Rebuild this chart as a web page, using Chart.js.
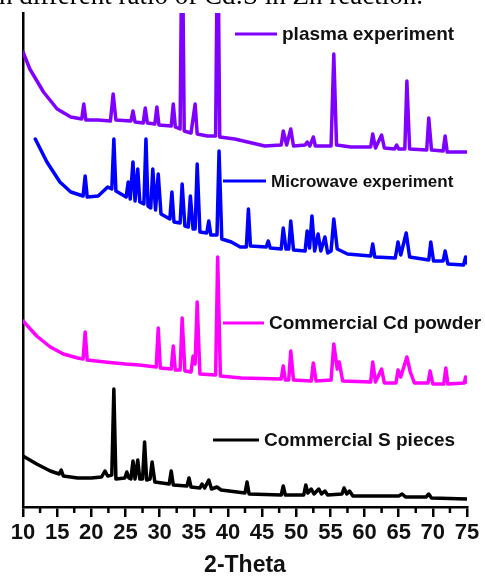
<!DOCTYPE html>
<html lang="en">
<head>
<meta charset="UTF-8">
<title>XRD patterns</title>
<script src="https://cdn.jsdelivr.net/npm/chart.js"></script>
<style>
  html, body { margin: 0; padding: 0; background: #fff; }
  .wrap { width: 485px; height: 577px; position: relative; }
</style>
</head>
<body>
<div class="wrap">
  <canvas id="xrdChart" width="485" height="577"></canvas>
</div>
<script>
// 2-theta ticks
const thetaTicks = [10, 15, 20, 25, 30, 35, 40, 45, 50, 55, 60, 65, 70, 75];

// plasma experiment (stacked, a.u.)
const plasmaTheta = [10, 11, 13, 15, 17, 18.6, 18.9, 19.2, 21, 22.8, 23.2, 23.6, 25.8, 26.1, 26.4, 27.6, 27.9, 28.2,
  29.3, 29.6, 29.9, 31.7, 32.0, 32.3, 33.0, 33.3, 33.6, 34.6, 35.2, 35.5, 37.0, 38.2, 38.5, 38.8, 41, 45.4,
  47.8, 48.1, 48.6, 49.2, 49.6, 51.3, 51.6, 52.0, 52.5, 52.8, 55.1, 55.5, 55.9, 58, 60.9, 61.2, 61.6, 62.5, 62.9,
  64.4, 64.7, 65.0, 65.9, 66.2, 66.6, 69.1, 69.4, 69.8, 71.5, 71.8, 72.1, 75];
const plasmaCounts = [455, 438, 415, 398, 390, 388, 403, 387, 387, 386, 413, 387, 386, 396, 385, 384, 399, 384,
  383, 400, 382, 381, 403, 380, 378, 600, 376, 374, 403, 373, 371, 371, 600, 370, 368, 361,
  362, 376, 362, 378, 361, 362, 365, 361, 370, 361, 361, 453, 362, 360, 360, 373, 359, 372, 359,
  358, 362, 358, 358, 426, 358, 357, 389, 357, 356, 371, 355, 355];

// microwave experiment
const microTheta = [11.8, 13.5, 15.4, 17, 18.8, 19.1, 19.4, 21, 22.4, 23.0, 23.3, 23.6, 25.1, 25.4, 25.7, 26.1, 26.4,
  26.8, 27.1, 27.7, 28.0, 28.3, 28.7, 29.0, 29.4, 29.8, 30.2, 31.5, 31.8, 32.1, 33.0, 33.3, 33.7, 34.2, 34.5,
  34.9, 35.2, 35.5, 35.9, 36.9, 37.2, 37.5, 38.4, 38.7, 39.1, 40.5, 41.8, 42.7, 43.0, 43.3, 45.6, 45.9, 46.2,
  47.8, 48.1, 48.5, 48.9, 49.2, 49.6, 51.3, 51.6, 51.95, 52.3, 52.7, 53.2, 53.6, 54.2, 54.6, 55.1, 55.5, 56.0,
  57.5, 60.9, 61.2, 61.5, 64.5, 64.9, 65.3, 66.1, 66.6, 69.4, 69.7, 70.1, 71.5, 71.8, 72.2, 74.5, 74.8, 75];
const microCounts = [368, 345, 325, 315, 311, 331, 310, 311, 320, 318, 368, 316, 310, 325, 308, 345, 306,
  338, 305, 303, 368, 301, 299, 338, 297, 333, 293, 288, 315, 285, 284, 323, 281, 280, 311,
  278, 278, 343, 275, 274, 286, 272, 272, 356, 268, 265, 260, 260, 298, 261, 260, 266, 259,
  258, 279, 258, 258, 286, 257, 256, 276, 259, 291, 256, 273, 256, 270, 254, 256, 288, 258,
  253, 251, 263, 250, 249, 265, 252, 274, 250, 247, 265, 246, 246, 256, 243, 242, 250, 244];

// commercial Cd powder
const cdTheta = [10, 12, 14, 15.9, 18, 18.8, 19.1, 19.4, 22, 25, 27, 29.5, 29.8, 30.1, 31.7, 32.0, 32.3, 33.0, 33.3,
  33.7, 34.6, 34.9, 35.2, 35.5, 35.9, 38.2, 38.5, 38.9, 42, 47.8, 48.1, 48.4, 48.9, 49.2, 49.6, 52.2, 52.5, 52.9,
  55.1, 55.5, 56.0, 56.3, 56.8, 60.9, 61.2, 61.6, 62.5, 62.9, 64.6, 64.9, 65.3, 66.2, 66.7, 67.3, 69.3, 69.6,
  70.0, 71.6, 71.9, 72.2, 74.6, 74.8, 75];
const cdCounts = [186, 171, 160, 153, 149, 148, 175, 147, 145, 143, 142, 140, 179, 139, 138, 161, 137, 137, 189,
  136, 135, 151, 143, 205, 133, 132, 250, 131, 129, 128, 141, 127, 127, 156, 127, 126, 144, 126,
  127, 163, 138, 145, 126, 125, 145, 125, 138, 124, 124, 137, 130, 150, 135, 124, 124, 136,
  123, 123, 139, 123, 124, 130, 125];

// commercial S pieces
const sTheta = [10, 12, 14, 15.3, 15.6, 15.9, 18, 20, 21.5, 22.0, 22.4, 23.0, 23.3, 23.6, 24.9, 25.2, 25.5, 25.8,
  26.1, 26.4, 26.8, 27.1, 27.5, 27.8, 28.1, 28.6, 28.9, 29.3, 31.4, 31.7, 32.0, 34.0, 34.3, 34.6, 35.9, 36.2,
  36.6, 37.2, 37.6, 38.4, 39, 42.5, 42.8, 43.1, 47.8, 48.1, 48.4, 51.1, 51.4, 51.7, 52.2, 52.6, 53.3, 53.7,
  54.2, 54.6, 56.7, 57.0, 57.4, 57.8, 58.3, 65, 65.5, 66, 69, 69.4, 69.8, 75];
const sCounts = [51, 43, 36, 33, 37, 31, 29, 29, 30, 36, 31, 32, 118, 28, 29, 35, 29, 28,
  46, 28, 47, 28, 28, 65, 27, 28, 45, 25, 23, 36, 22, 21, 29, 20, 19, 23,
  19, 27, 18, 20, 17, 14, 25, 13, 12, 21, 12, 12, 22, 14, 18, 13, 18, 13,
  16, 12, 13, 19, 13, 16, 11, 11, 13, 10, 10, 13, 9, 8];

const seriesNames = ['plasma experiment', 'Microwave experiment', 'Commercial Cd powder', 'Commercial S pieces'];
const seriesColors = ['#8000ff', '#0000ff', '#ff00ff', '#000000'];

function toPoints(xs, ys) {
  return xs.map((x, i) => ({ x: x, y: ys[i] }));
}

const allSeries = [
  toPoints(plasmaTheta, plasmaCounts),
  toPoints(microTheta, microCounts),
  toPoints(cdTheta, cdCounts),
  toPoints(sTheta, sCounts)
];

// legend spots next to each curve
const legendSpots = [
  { x1: 235, x2: 277, y: 34, tx: 282, size: 19 },
  { x1: 223, x2: 266, y: 181, tx: 271, size: 17 },
  { x1: 223, x2: 264, y: 323, tx: 269, size: 19 },
  { x1: 213, x2: 259, y: 440, tx: 264, size: 19 }
];

const extrasPlugin = {
  id: 'extras',
  afterDraw(chart) {
    const ctx = chart.ctx;
    const xs = chart.scales.x;
    const area = chart.chartArea;

    // minor ticks
    ctx.save();
    ctx.strokeStyle = '#000';
    ctx.lineWidth = 2.5;
    for (let v = 12.5; v < 75; v += 5) {
      const px = xs.getPixelForValue(v);
      ctx.beginPath();
      ctx.moveTo(px, area.bottom);
      ctx.lineTo(px, area.bottom + 6);
      ctx.stroke();
    }
    ctx.restore();

    // legend entries
    ctx.save();
    legendSpots.forEach((s, i) => {
      ctx.strokeStyle = seriesColors[i];
      ctx.lineWidth = 3;
      ctx.beginPath();
      ctx.moveTo(s.x1, s.y);
      ctx.lineTo(s.x2, s.y);
      ctx.stroke();
      ctx.fillStyle = '#111';
      ctx.font = 'bold ' + s.size + 'px Arial, "Liberation Sans", sans-serif';
      ctx.textBaseline = 'middle';
      ctx.textAlign = 'left';
      ctx.fillText(seriesNames[i], s.tx, s.y + 1);
    });
    ctx.restore();

    // caption cut off at the top
    ctx.save();
    ctx.fillStyle = '#000';
    ctx.font = '27px "Times New Roman", "Liberation Serif", serif';
    ctx.textAlign = 'right';
    ctx.textBaseline = 'alphabetic';
    ctx.fillText('in different ratio of Cd:S in Zn reaction.', 423, 4);
    ctx.restore();
  }
};

new Chart(document.getElementById('xrdChart'), {
  type: 'line',
  data: {
    datasets: allSeries.map((pts, i) => ({
      label: seriesNames[i],
      data: pts,
      borderColor: seriesColors[i],
      borderWidth: 3.5,
      borderJoinStyle: 'round',
      borderCapStyle: 'round',
      pointRadius: 0,
      tension: 0,
      fill: false
    }))
  },
  options: {
    responsive: false,
    animation: false,
    events: [],
    layout: { padding: { left: 23, right: 18, top: 13, bottom: 0 } },
    plugins: {
      legend: { display: false },
      tooltip: { enabled: false }
    },
    scales: {
      x: {
        type: 'linear',
        min: 10,
        max: 75,
        afterBuildTicks: (scale) => { scale.ticks = thetaTicks.map(v => ({ value: v })); },
        afterFit: (scale) => { scale.height = 70; },
        ticks: {
          color: '#111',
          font: { family: 'Arial, "Liberation Sans", sans-serif', size: 22, weight: 'bold' },
          padding: 3,
          maxRotation: 0,
          autoSkip: false
        },
        grid: { drawOnChartArea: false, drawTicks: true, tickLength: 10, color: '#000', lineWidth: 2.5 },
        border: { display: true, color: '#000', width: 2.5 },
        title: {
          display: true,
          text: '2-Theta',
          color: '#111',
          font: { family: 'Arial, "Liberation Sans", sans-serif', size: 23, weight: 'bold', lineHeight: 1 },
          padding: { top: 0, bottom: 0 }
        }
      },
      y: {
        min: 0,
        max: 494,
        afterFit: (scale) => { scale.width = 0; },
        ticks: { display: false },
        grid: { display: false, drawTicks: false },
        border: { display: true, color: '#000', width: 2.5 }
      }
    }
  },
  plugins: [extrasPlugin]
});
</script>
</body>
</html>
